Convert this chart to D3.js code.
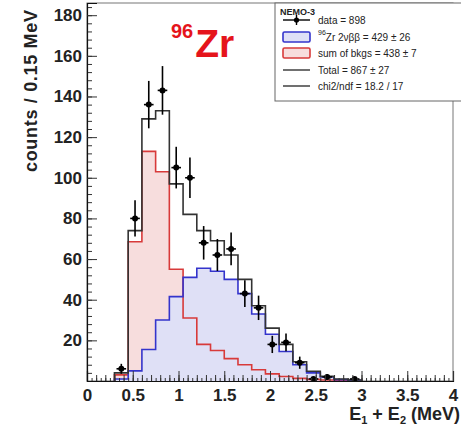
<!DOCTYPE html>
<html>
<head>
<meta charset="utf-8">
<script src="https://cdn.jsdelivr.net/npm/d3@7"></script>
<style>
  body { margin: 0; background: #fff; }
  svg { display: block; font-family: "Liberation Sans", Arial, sans-serif; }
</style>
</head>
<body>
<svg id="chart" width="461" height="432"></svg>
<script>
// lower edges of the 0.15 MeV bins
var binLow = [0.30, 0.45, 0.60, 0.75, 0.90, 1.05, 1.20, 1.35, 1.50, 1.65,
              1.80, 1.95, 2.10, 2.25, 2.40, 2.55, 2.70, 2.85];
var binWidth = 0.15;

var bkgs  = [3, 68.5, 113, 103, 55, 31, 18, 15, 11, 8, 5.5, 3.5, 2.2, 1.3, 0.8, 0.5, 0.3, 0.2];
var zr2nu = [1, 5, 15.5, 30, 41.5, 51, 55.5, 54, 50, 43, 33, 23, 14.5, 8, 4, 2, 0.7, 0.3];
var total = [4, 74, 129, 133, 97, 82, 74, 69, 62, 50, 37, 26, 18, 9.5, 4.8, 2.3, 1, 0.5];
var data  = [6, 80, 136, 143, 105, 100, 68, 62, 65, 43, 36, 18, 19, 9, 1, 2, 0, 1];

var xTicks = [0, 0.5, 1, 1.5, 2, 2.5, 3, 3.5, 4];
var yTicks = [20, 40, 60, 80, 100, 120, 140, 160, 180];

var legendRows = [
    {type: 'data', label: 'data = 898'},
    {type: 'zr', label: 'Zr 2\u03bd\u03b2\u03b2 = 429 \u00b1 26'},
    {type: 'bkg', label: 'sum of bkgs = 438 \u00b1 7'},
    {type: 'line', label: 'Total = 867 \u00b1 27'},
    {type: 'line', label: 'chi2/ndf = 18.2 / 17'}
];

var svg = d3.select('#chart');
var frameL = 87, frameR = 453, frameT = 3, frameB = 381;

var x = d3.scaleLinear().domain([0, 4]).range([frameL, frameR]);
var y = d3.scaleLinear().domain([0, 186]).range([frameB, frameT]);

// step outline of a histogram, closed down to zero
function stepPath(vals) {
    var p = d3.path();
    p.moveTo(x(binLow[0]), y(0));
    vals.forEach(function(v, i) {
        p.lineTo(x(binLow[i]), y(v));
        p.lineTo(x(binLow[i] + binWidth), y(v));
    });
    p.lineTo(x(binLow[binLow.length - 1] + binWidth), y(0));
    return p.toString();
}

// frame
svg.append('rect')
    .attr('x', frameL).attr('y', frameT)
    .attr('width', frameR - frameL).attr('height', frameB - frameT)
    .attr('fill', 'none').attr('stroke', '#777');

// fills
svg.append('path').attr('d', stepPath(bkgs)).attr('fill', '#f7dddd').attr('stroke', 'none');
svg.append('path').attr('d', stepPath(zr2nu)).attr('fill', '#dfe0f6').attr('stroke', 'none');

// outlines
svg.append('path').attr('d', stepPath(bkgs)).attr('fill', 'none')
    .attr('stroke', '#d83a3a').attr('stroke-width', 1.6);
svg.append('path').attr('d', stepPath(zr2nu)).attr('fill', 'none')
    .attr('stroke', '#3434cc').attr('stroke-width', 1.6);
svg.append('path').attr('d', stepPath(total)).attr('fill', 'none')
    .attr('stroke', '#333').attr('stroke-width', 1.6);

// data points with sqrt(N) errors
var pts = svg.append('g');
data.forEach(function(n, i) {
    if (n <= 0) return;
    var cx = x(binLow[i] + binWidth / 2), err = Math.sqrt(n);
    pts.append('line')
        .attr('x1', cx).attr('x2', cx)
        .attr('y1', y(n + err)).attr('y2', y(Math.max(n - err, 0)))
        .attr('stroke', '#000').attr('stroke-width', 1.6);
    pts.append('line')
        .attr('x1', x(binLow[i] + binWidth * 0.15)).attr('x2', x(binLow[i] + binWidth * 0.85))
        .attr('y1', y(n)).attr('y2', y(n))
        .attr('stroke', '#000').attr('stroke-width', 1.6);
    pts.append('circle').attr('cx', cx).attr('cy', y(n)).attr('r', 3).attr('fill', '#000');
});

// axes, ticks pointing into the frame
svg.append('g').attr('transform', 'translate(0,' + frameB + ')')
    .call(d3.axisBottom(x).tickValues(d3.range(0, 4.001, 0.05)).tickSize(-3).tickFormat(''))
    .call(function(g) { g.select('.domain').remove(); });
svg.append('g').attr('transform', 'translate(0,' + frameB + ')')
    .call(d3.axisBottom(x).tickValues(d3.range(0, 4.001, 0.1)).tickSize(-6).tickFormat(''))
    .call(function(g) { g.select('.domain').remove(); });
var xAxis = svg.append('g').attr('transform', 'translate(0,' + frameB + ')')
    .call(d3.axisBottom(x).tickValues(xTicks).tickSize(-10).tickPadding(8)
        .tickFormat(function(d) { return d; }));

svg.append('g').attr('transform', 'translate(' + frameL + ',0)')
    .call(d3.axisLeft(y).tickValues(d3.range(0, 186, 4)).tickSize(-5).tickFormat(''))
    .call(function(g) { g.select('.domain').remove(); });
var yAxis = svg.append('g').attr('transform', 'translate(' + frameL + ',0)')
    .call(d3.axisLeft(y).tickValues(yTicks).tickSize(-10).tickPadding(5));

svg.selectAll('.tick line').attr('stroke', '#333');
[xAxis, yAxis].forEach(function(g) {
    g.select('.domain').attr('stroke', '#111').attr('stroke-width', 1.2);
    g.selectAll('text').attr('font-size', 17).attr('font-weight', 'bold')
        .attr('fill', '#222').attr('font-family', '"Liberation Sans", Arial, sans-serif');
});

// axis titles
svg.append('text')
    .attr('transform', 'translate(37,10) rotate(-90)')
    .attr('text-anchor', 'end')
    .attr('font-size', 18).attr('font-weight', 'bold').attr('fill', '#222')
    .attr('textLength', 162).attr('lengthAdjust', 'spacing')
    .text('counts / 0.15 MeV');

var xt = svg.append('text')
    .attr('x', 460).attr('y', 420).attr('text-anchor', 'end')
    .attr('font-size', 18).attr('font-weight', 'bold').attr('fill', '#222');
xt.append('tspan').text('E');
xt.append('tspan').attr('font-size', 11).attr('dy', 4).text('1');
xt.append('tspan').attr('dy', -4).text(' + E');
xt.append('tspan').attr('font-size', 11).attr('dy', 4).text('2');
xt.append('tspan').attr('dy', -4).text(' (MeV)');

// isotope label
var iso = svg.append('text').attr('x', 171).attr('y', 57)
    .attr('fill', '#e5141b').attr('font-weight', 'bold').attr('font-size', 39);
iso.append('tspan').attr('font-size', 20).attr('dy', -19).text('96');
iso.append('tspan').attr('dx', 2).attr('dy', 19).text('Zr');

// legend
var lg = svg.append('g');
lg.append('rect').attr('x', 275).attr('y', 3).attr('width', 200).attr('height', 98)
    .attr('fill', '#fff').attr('stroke', '#666');
lg.append('text').attr('x', 280).attr('y', 15).attr('font-size', 9)
    .attr('font-weight', 'bold').attr('fill', '#222').text('NEMO-3');

var rowY = [20, 37, 53, 70, 86];
legendRows.forEach(function(r, i) {
    var ry = rowY[i];
    if (r.type === 'data') {
        lg.append('line').attr('x1', 283).attr('x2', 310).attr('y1', ry).attr('y2', ry)
            .attr('stroke', '#000').attr('stroke-width', 1.4);
        lg.append('line').attr('x1', 296.5).attr('x2', 296.5).attr('y1', ry - 5).attr('y2', ry + 5)
            .attr('stroke', '#000').attr('stroke-width', 1.4);
        lg.append('circle').attr('cx', 296.5).attr('cy', ry).attr('r', 2.6).attr('fill', '#000');
    } else if (r.type === 'zr' || r.type === 'bkg') {
        lg.append('rect').attr('x', 283).attr('y', ry - 5).attr('width', 27).attr('height', 10)
            .attr('rx', 1.5)
            .attr('fill', r.type === 'zr' ? '#dfe0f6' : '#f7dddd')
            .attr('stroke', r.type === 'zr' ? '#3434cc' : '#d83a3a').attr('stroke-width', 1.6);
    } else {
        lg.append('line').attr('x1', 283).attr('x2', 310).attr('y1', ry).attr('y2', ry)
            .attr('stroke', '#333').attr('stroke-width', 1.4);
    }
    var t = lg.append('text').attr('x', 318).attr('y', ry + 4)
        .attr('font-size', 10).attr('fill', '#222');
    if (r.type === 'zr') {
        t.append('tspan').attr('font-size', 7).attr('dy', -6).text('96');
        t.append('tspan').attr('dy', 6).text(r.label);
    } else {
        t.text(r.label);
    }
});
</script>
</body>
</html>
